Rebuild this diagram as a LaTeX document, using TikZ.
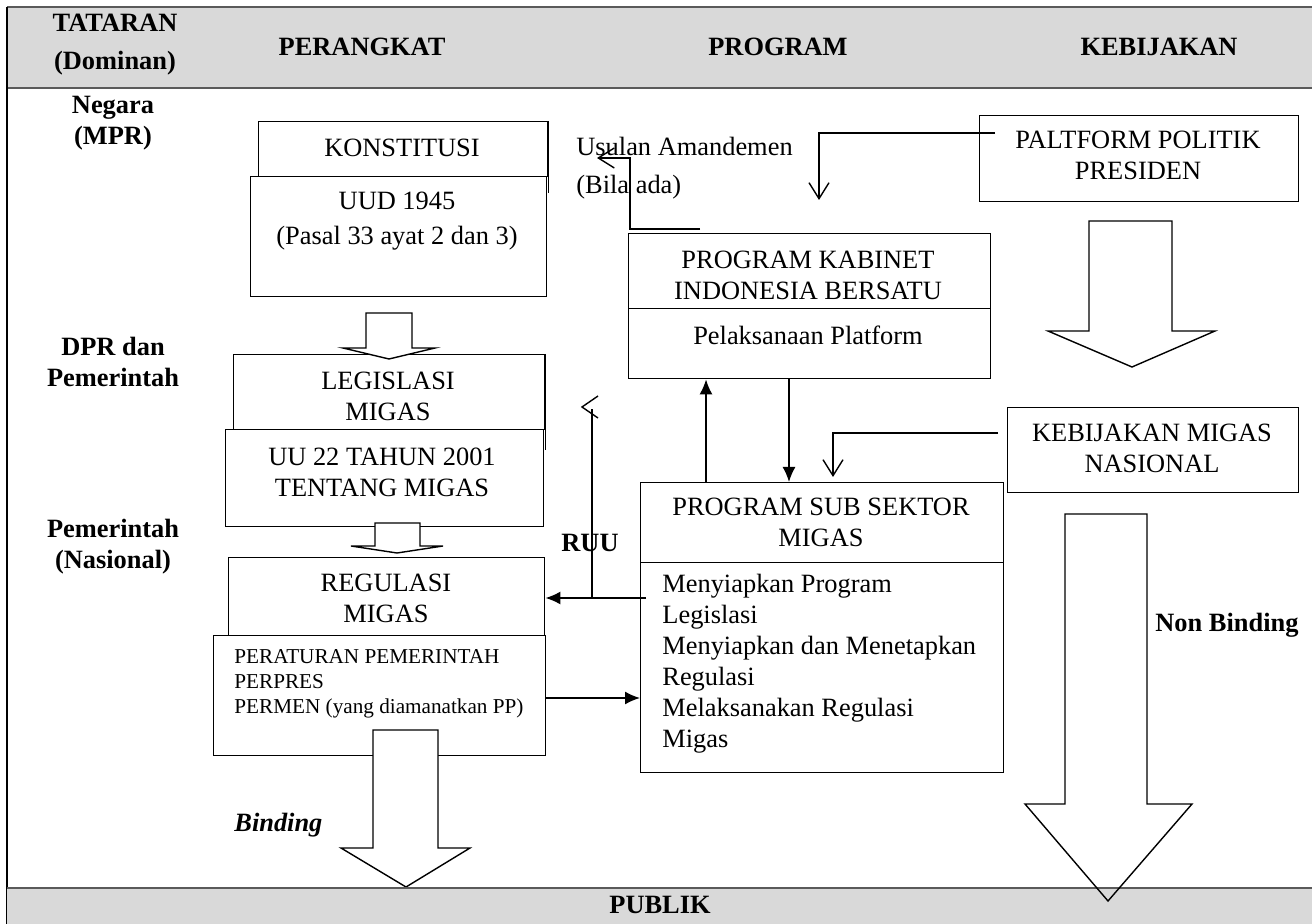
\documentclass[tikz,border=0pt]{standalone}
\usepackage{fontspec}
\setmainfont{Liberation Serif}
\usetikzlibrary{arrows.meta}
\definecolor{hdr}{HTML}{D9D9D9}
\definecolor{rulec}{HTML}{5A5A5A}
\newcommand\bodysz{\fontsize{13.2}{15.5}\selectfont}
\newcommand\smallsz{\fontsize{10.6}{12.5}\selectfont}
\begin{document}
\begin{tikzpicture}[x=0.5pt,y=-0.5pt,
  box/.style={draw, line width=0.7pt, inner sep=0pt, anchor=north west},
  txt/.style={inner sep=0pt, align=center, font=\bodysz},
  ltxt/.style={inner sep=0pt, align=left, font=\bodysz, anchor=west},
  btxt/.style={inner sep=0pt, align=center, font=\bodysz\bfseries},
  blk/.style={draw, fill=white, line width=0.7pt, line join=miter},
  fa/.style={line width=0.8pt, -{Latex[length=7.5pt,width=6.5pt]}},
  oa/.style={line width=0.7pt, -{Straight Barb[length=8pt,width=10pt]}},
  ln/.style={line width=0.7pt}]
\useasboundingbox (0,0) rectangle (1312,924);

% table frame
\fill[hdr] (7,7) rectangle (1312,88);
\draw[rulec, line width=1pt] (7,7) -- (1312,7) (7,88) -- (1312,88);
\draw[line width=0.7pt] (7,7) -- (7,924);

% header texts
\node[btxt] (hTat) at (115,45) {TATARAN\\[3.5pt](Dominan)};
\node[btxt] (hPer) at (362,47) {PERANGKAT};
\node[btxt] (hPro) at (778,47) {PROGRAM};
\node[btxt] (hKeb) at (1159,47) {KEBIJAKAN};

% row labels
\node[btxt] (lNeg) at (113,123) {Negara\\(MPR)};
\node[btxt] (lDpr) at (113,362) {DPR dan\\Pemerintah};
\node[btxt] (lPem) at (113,547) {Pemerintah\\(Nasional)};

% boxes: perangkat
\node[box, minimum width=144.5pt, minimum height=27.5pt] (konst) at (258,121) {};
\node[box, minimum width=148pt, minimum height=60pt] (uud) at (250,176) {};
\draw[ln] (konst.north east) -- ++(0,72);
\node[box, minimum width=155.5pt, minimum height=37.5pt] (legis) at (233,354) {};
\node[box, minimum width=159pt, minimum height=48.5pt] (uu) at (225,429) {};
\draw[ln] (legis.north east) -- ++(0,96);
\node[box, minimum width=158pt, minimum height=39pt] (regul) at (228,557) {};
\node[box, minimum width=166pt, minimum height=60pt] (perat) at (213,635) {};

% boxes: program
\node[box, minimum width=181pt, minimum height=37.5pt] (kabA) at (628,233) {};
\node[box, minimum width=181pt, minimum height=35pt] (kabB) at (628,308) {};
\node[box, minimum width=181.5pt, minimum height=40pt] (subA) at (640,482) {};
\node[box, minimum width=181.5pt, minimum height=105pt] (subB) at (640,562) {};

% boxes: kebijakan
\node[box, minimum width=159.5pt, minimum height=43pt] (palt) at (979,115) {};
\node[box, minimum width=145.5pt, minimum height=42.5pt] (kebm) at (1007,407) {};

% box texts
\node[txt] (konstT) at (402,148) {KONSTITUSI};
\node[txt] (uudT) at (397,221) {UUD 1945\\[2pt](Pasal 33 ayat 2 dan 3)};
\node[txt] (legisT) at (388,396) {LEGISLASI\\MIGAS};
\node[txt] (uuT) at (382,472) {UU 22 TAHUN 2001\\TENTANG MIGAS};
\node[txt] (regulT) at (386,598) {REGULASI\\MIGAS};
\node[inner sep=0pt, align=left, anchor=west, font=\smallsz] (peratT) at (234,684)
  {PERATURAN PEMERINTAH\\PERPRES\\PERMEN (yang diamanatkan PP)};
\node[txt] (kabAT) at (808,275) {PROGRAM KABINET\\INDONESIA BERSATU};
\node[txt] (kabBT) at (808,335) {Pelaksanaan Platform};
\node[txt] (subAT) at (821,522) {PROGRAM SUB SEKTOR\\MIGAS};
\node[ltxt] (subBT) at (662,664) {Menyiapkan Program\\Legislasi\\Menyiapkan dan Menetapkan\\Regulasi\\Melaksanakan Regulasi\\Migas};
\node[txt] (paltT) at (1138,155) {PALTFORM POLITIK\\PRESIDEN};
\node[txt] (kebmT) at (1152,448) {KEBIJAKAN MIGAS\\NASIONAL};

% free labels
\node[ltxt] (usulA) at (576,146) {Usulan Amandemen};
\node[ltxt] (usulB) at (576,187) {(Bila ada)};
\node[btxt] (ruuT) at (590,543) {RUU};
\node[inner sep=0pt, anchor=west, font=\bodysz\bfseries\itshape] (bindT) at (234,825) {Binding};
\node[inner sep=0pt, anchor=west, font=\bodysz\bfseries] (nbindT) at (1155,625) {Non Binding};

% block arrows
\draw[blk] (366,313) -- (366,348) -- (343,348) -- (389,359) -- (435,348) -- (412,348) -- (412,313) -- cycle;
\draw[blk] (375,523) -- (375,546) -- (351,546) -- (397,553) -- (443,546) -- (420,546) -- (420,523) -- cycle;
\draw[blk] (373,730) -- (373,848) -- (341,848) -- (406,887) -- (470,848) -- (438,848) -- (438,730) -- cycle;
\draw[blk] (1089,221) -- (1089,331) -- (1048,331) -- (1132,367) -- (1215,331) -- (1172,331) -- (1172,221) -- cycle;
\path[fill=white] (1065,514) -- (1065,804) -- (1025,804) -- (1108,901) -- (1192,804) -- (1147,804) -- (1147,514) -- cycle;

% publik band
\fill[hdr] (7,888) rectangle (1312,924);
\draw[rulec, line width=1pt] (7,888) -- (1312,888);
\node[btxt] (publik) at (660,905) {PUBLIK};
\draw[blk, fill=none] (1065,514) -- (1065,804) -- (1025,804) -- (1108,901) -- (1192,804) -- (1147,804) -- (1147,514) -- cycle;

% connectors
\coordinate (cx789) at (789,0);
\coordinate (cx706) at (706,0);
\coordinate (cy698) at (0,698);
\coordinate (cy598) at (0,598);
\draw[fa] (kabB.south -| cx789) -- (subA.north -| cx789);
\draw[fa] (subA.north -| cx706) -- (kabB.south -| cx706);
\draw[fa] (perat.east |- cy698) -- (subB.west |- cy698);
\draw[fa] ([xshift=3pt]subB.west |- cy598) -- (regul.east |- cy598);

\coordinate (ruuB) at (592,598);
\coordinate (ruuTop) at (592,409);
\draw[ln] (ruuB) -- (ruuTop);
\draw[ln] (598,396) -- (582,407) -- (598,418);

\coordinate (u1) at (700,229);
\coordinate (u2) at (630,158);
\coordinate (u3) at (597,158);
\draw[oa] (u1) -| (u2) -- (u3);

\coordinate (p1) at (995,133);
\coordinate (p2) at (819,200);
\draw[oa] (p1) -| (p2);

\coordinate (k0) at (kebm.west |- 0,433);
\coordinate (k2) at (833,477);
\draw[oa] ([xshift=-4.5pt]k0) -| (k2);
\end{tikzpicture}
\end{document}
